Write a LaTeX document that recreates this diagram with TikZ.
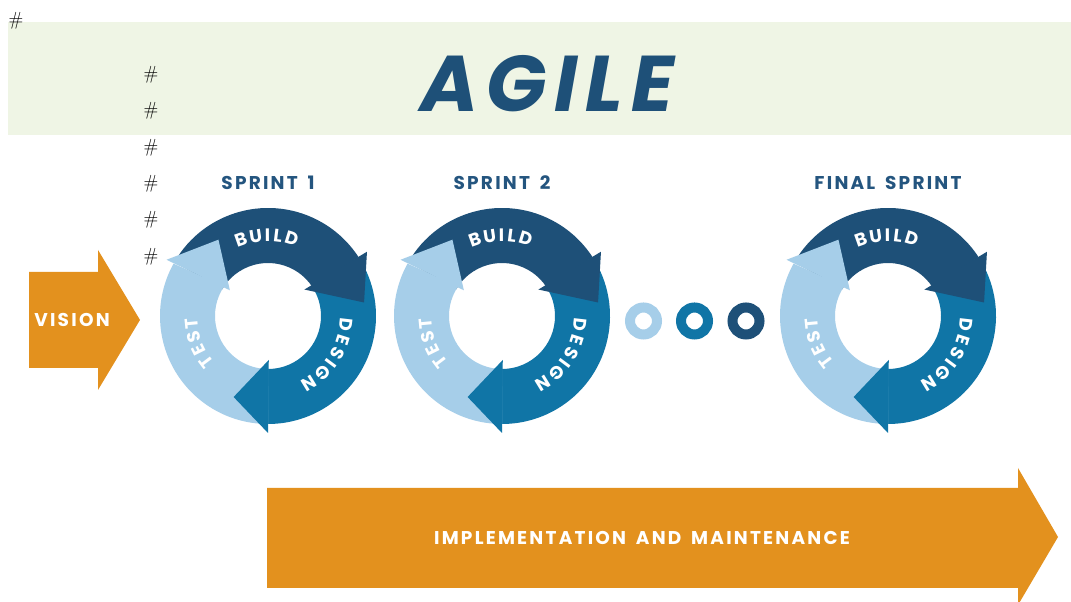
\documentclass[tikz,border=0pt]{standalone}
\usepackage{fontspec}
\newfontfamily\pop{Poppins}
\newfontfamily\popw{Poppins}[WordSpace=1.6]
\definecolor{cbuild}{HTML}{1E5078}
\definecolor{cdesign}{HTML}{1075A6}
\definecolor{ctest}{HTML}{A6CEE9}
\definecolor{corange}{HTML}{E3911E}
\definecolor{cband}{HTML}{EFF5E5}
\definecolor{ctitle}{HTML}{24557F}
\tikzset{
  lbl/.style={text=white,inner sep=0pt,font=\pop\bfseries\fontsize{18}{18}\selectfont},
  sprtitle/.style={text=ctitle,inner sep=0pt,font={\popw\bfseries\fontsize{18.5}{18.5}\selectfont\addfontfeatures{LetterSpace=12}}},
  arrtext/.style={text=white,inner sep=0pt,font={\popw\bfseries\fontsize{18.5}{18.5}\selectfont\addfontfeatures{LetterSpace=12}}},
  hashmark/.style={inner sep=0pt,font=\fontsize{19}{19}\selectfont},
  ring/.style={circle,draw=#1,line width=10pt,minimum size=27pt,inner sep=0pt},
}
\newcommand\sprintwheel[4]{%
  \coordinate (#3) at (#1,#2);
  % bodies
  \fill[cbuild] ([shift={(150:108pt)}]#3) arc[start angle=150,end angle=33,radius=108pt]
     -- ([shift={(33:53pt)}]#3) arc[start angle=33,end angle=150,radius=53pt] -- cycle;
  \fill[cdesign] ([shift={(33:108pt)}]#3) arc[start angle=33,end angle=-90,radius=108pt]
     -- ([shift={(-90:53pt)}]#3) arc[start angle=-90,end angle=33,radius=53pt] -- cycle;
  \fill[ctest] ([shift={(270:108pt)}]#3) arc[start angle=270,end angle=151,radius=108pt]
     -- ([shift={(146:53pt)}]#3) arc[start angle=146,end angle=270,radius=53pt] -- cycle;
  % heads
  \fill[cbuild] ([shift={(33:118pt)}]#3) -- ([shift={(8:97pt)}]#3) -- ([shift={(36:45pt)}]#3) -- cycle;
  \fill[cdesign] ([shift={(-90:117pt)}]#3) -- ([shift={(-113:88pt)}]#3) -- ([shift={(-89:44pt)}]#3) -- cycle;
  \fill[ctest] ([shift={(151:116pt)}]#3) -- ([shift={(123:91pt)}]#3) -- ([shift={(146:46pt)}]#3) -- cycle;
  % labels
  \foreach \ch/\a [count=\k] in {B/109.5,U/98.7,I/90.3,L/83,D/73}
    \node[lbl,rotate=\a-90] (#3-b\k) at ([shift={(\a:81pt)}]#3) {\ch};
  \foreach \ch/\a [count=\k] in {D/-6.5,E/-17.7,S/-28,I/-36.6,G/-46,N/-58.5}
    \node[lbl,rotate=\a-90] (#3-d\k) at ([shift={(\a:79pt)}]#3) {\ch};
  \foreach \ch/\a [count=\k] in {T/217,E/206.4,S/196,T/185.5}
    \node[lbl,rotate=\a-90] (#3-t\k) at ([shift={(\a:77pt)}]#3) {\ch};
  \node[sprtitle] (#3-title) at (#1,419) {#4};
}
\begin{document}
\begin{tikzpicture}[x=1pt,y=1pt]
\useasboundingbox (0,0) rectangle (1071,602);
\fill[white] (0,0) rectangle (1071,602);
% header band
\fill[cband] (8,467) rectangle (1071,580);
\node[text=cbuild,inner sep=0pt,font={\pop\bfseries\itshape\fontsize{79}{79}\selectfont\addfontfeatures{LetterSpace=10}}] (agile) at (547,518) {AGILE};
% vision arrow
\fill[corange] (29,330) -- (98,330) -- (98,352) -- (140,282) -- (98,212) -- (98,234) -- (29,234) -- cycle;
\node[arrtext] (vision) at (72,282) {VISION};
% sprints
\sprintwheel{268}{286}{s1}{SPRINT 1}
\sprintwheel{502}{286}{s2}{SPRINT 2}
\sprintwheel{888}{286}{s3}{FINAL SPRINT}
% dots
\node[ring=ctest] (dot1) at (643.5,281) {};
\node[ring=cdesign] (dot2) at (694.5,281) {};
\node[ring=cbuild] (dot3) at (746,281) {};
% implementation arrow
\fill[corange] (267,114) -- (1018,114) -- (1018,134) -- (1058,65) -- (1018,-3) -- (1018,14) -- (267,14) -- cycle;
\node[arrtext] (impl) at (642,64) {IMPLEMENTATION AND MAINTENANCE};
% stray marks
\node[hashmark] (h0) at (16,581) {\#};
\foreach \yy [count=\k] in {75,111,148,184,220,257}
  \node[hashmark] (h\k) at (151,602-\yy) {\#};
\end{tikzpicture}
\end{document}
